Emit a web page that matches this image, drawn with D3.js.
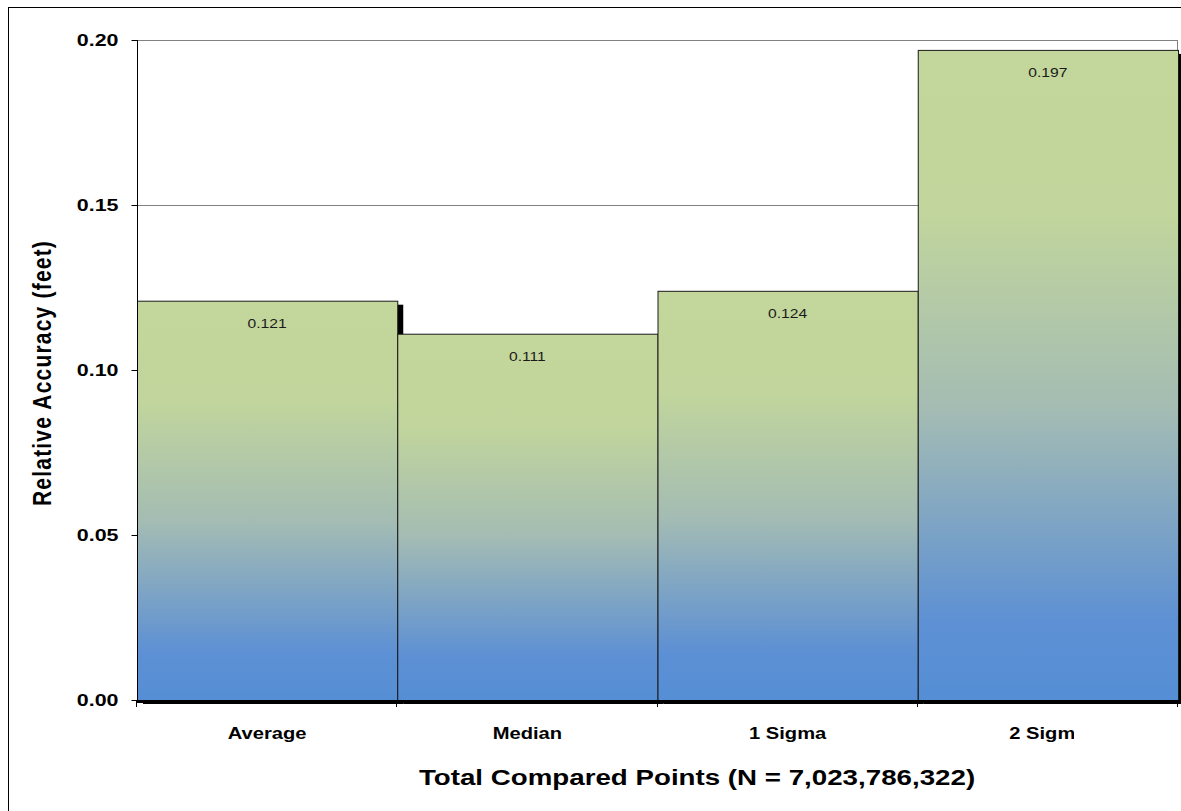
<!DOCTYPE html>
<html>
<head>
<meta charset="utf-8">
<script src="https://cdn.jsdelivr.net/npm/d3@7/dist/d3.min.js"></script>
<style>
  html, body { margin: 0; padding: 0; background: #fff; }
  svg { display: block; font-family: "Liberation Sans", Arial, sans-serif; }
</style>
</head>
<body>
<svg id="chart" width="1181" height="811"></svg>
<script>
// Relative accuracy statistics
const categories = ["Average", "Median", "1 Sigma", "2 Sigma"];
const values = [0.121, 0.111, 0.124, 0.197];
const yTicks = [0.00, 0.05, 0.10, 0.15, 0.20];
const xTitle = "Total Compared Points (N = 7,023,786,322)";
const yTitle = "Relative Accuracy (feet)";

const W = 1181, H = 811;
const plot = { left: 137, right: 1178, top: 40, bottom: 700 };
const sx = 1.26; // horizontal text stretch

const svg = d3.select("#chart");

const x = d3.scaleBand().domain(categories).range([plot.left, plot.right]).padding(0);
const y = d3.scaleLinear().domain([0, 0.20]).range([plot.bottom, plot.top]);

// gradient fill, green at the top fading to blue at the base of each bar
const defs = svg.append("defs");
const grad = defs.append("linearGradient").attr("id", "barFill")
  .attr("x1", 0).attr("y1", 0).attr("x2", 0).attr("y2", 1);
[[0, "#c3d69b"], [0.25, "#c1d59c"], [0.55, "#a4bcb3"], [0.88, "#5d90d4"], [1, "#558ed5"]]
  .forEach(([o, c]) => grad.append("stop").attr("offset", o).attr("stop-color", c));

defs.append("clipPath").attr("id", "pageClip")
  .append("rect").attr("x", 0).attr("y", 0).attr("width", 1074).attr("height", H);

// chart frame
svg.append("rect").attr("x", 8.5).attr("y", 7.5).attr("width", W + 20).attr("height", H + 20)
  .attr("fill", "none").attr("stroke", "#000").attr("stroke-width", 1);

// gridlines
svg.append("g").selectAll("line").data(yTicks.filter(d => d > 0)).join("line")
  .attr("x1", plot.left).attr("x2", plot.right - 1)
  .attr("y1", d => Math.round(y(d)) + 0.5).attr("y2", d => Math.round(y(d)) + 0.5)
  .attr("stroke", "#808080").attr("stroke-width", 1);
svg.append("line").attr("x1", plot.right - 0.5).attr("x2", plot.right - 0.5)
  .attr("y1", y(0.20)).attr("y2", plot.bottom)
  .attr("stroke", "#808080");

// bar shadows
svg.append("g").selectAll("rect").data(values).join("rect")
  .attr("x", (d, i) => x(categories[i]) + 6)
  .attr("y", d => y(d) + 4)
  .attr("width", x.bandwidth())
  .attr("height", d => plot.bottom - y(d))
  .attr("fill", "#000");

// bars
svg.append("g").selectAll("rect").data(values).join("rect")
  .attr("x", (d, i) => x(categories[i]) + 0.5)
  .attr("y", d => y(d) + 0.5)
  .attr("width", x.bandwidth())
  .attr("height", d => plot.bottom - y(d))
  .attr("fill", "url(#barFill)")
  .attr("stroke", "#1a1a1a").attr("stroke-width", 1);

// value labels
svg.append("g").selectAll("text").data(values).join("text")
  .attr("transform", (d, i) => `translate(${x(categories[i]) + x.bandwidth() / 2},${y(d) + 27}) scale(1.16,1)`)
  .attr("text-anchor", "middle")
  .attr("font-size", 13.5)
  .attr("fill", "#1a1a1a")
  .text(d => d.toFixed(3));

// y axis
const yAxis = svg.append("g").attr("transform", `translate(${plot.left + 0.5},0)`);
yAxis.append("line").attr("y1", plot.top).attr("y2", plot.bottom).attr("stroke", "#000");
yAxis.selectAll("line.tick").data(yTicks).join("line").attr("class", "tick")
  .attr("x1", -6).attr("x2", 0)
  .attr("y1", d => Math.round(y(d)) + 0.5).attr("y2", d => Math.round(y(d)) + 0.5)
  .attr("stroke", "#000");
yAxis.selectAll("text").data(yTicks).join("text")
  .attr("transform", d => `translate(-19,${y(d) + 6}) scale(${sx},1)`)
  .attr("text-anchor", "end")
  .attr("font-size", 17).attr("font-weight", "bold")
  .text(d3.format(".2f"));

// x axis
const xAxis = svg.append("g");
xAxis.append("line").attr("x1", plot.left).attr("x2", plot.right + 6)
  .attr("y1", plot.bottom + 1.5).attr("y2", plot.bottom + 1.5)
  .attr("stroke", "#000").attr("stroke-width", 3);
const bounds = categories.map(c => x(c)).concat([x(categories[3]) + x.bandwidth()]);
xAxis.selectAll("line.tick").data(bounds).join("line").attr("class", "tick")
  .attr("x1", d => Math.round(d) - 0.5).attr("x2", d => Math.round(d) - 0.5)
  .attr("y1", plot.bottom).attr("y2", plot.bottom + 7)
  .attr("stroke", "#000");
xAxis.append("g").attr("clip-path", "url(#pageClip)")
  .selectAll("text").data(categories).join("text")
  .attr("transform", d => `translate(${x(d) + x.bandwidth() / 2},${plot.bottom + 39}) scale(${sx},1)`)
  .attr("text-anchor", "middle")
  .attr("font-size", 16).attr("font-weight", "bold")
  .text(d => d);

// axis titles
svg.append("text")
  .attr("transform", `translate(697,785) scale(${sx},1)`)
  .attr("text-anchor", "middle")
  .attr("font-size", 22).attr("font-weight", "bold")
  .text(xTitle);

svg.append("text")
  .attr("transform", `translate(51,373) rotate(-90) scale(1,1.2)`)
  .attr("text-anchor", "middle")
  .attr("font-size", 21).attr("font-weight", "bold")
  .attr("letter-spacing", 1.2)
  .text(yTitle);
</script>
</body>
</html>
